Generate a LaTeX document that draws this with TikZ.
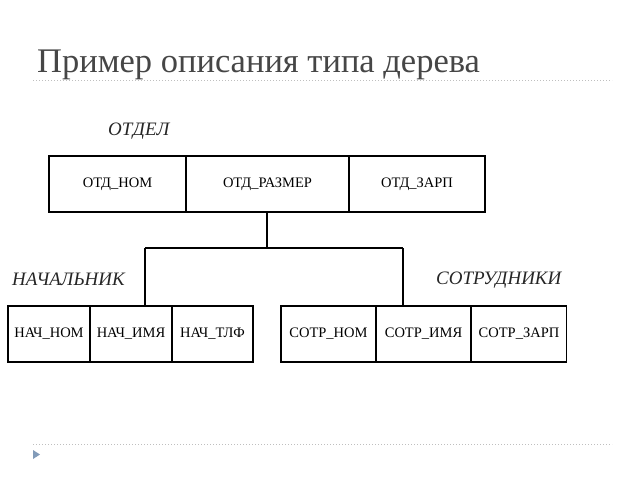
\documentclass[tikz,border=0pt]{standalone}
\usepackage{fontspec}
\setmainfont{Liberation Serif}
\definecolor{tri}{RGB}{130,155,185}
\definecolor{titlegray}{RGB}{70,70,70}
\begin{document}
\begin{tikzpicture}[x=1pt,y=-1pt,
  cell/.style={draw=black,line width=1.4pt,minimum height=56pt,inner sep=0pt,font=\fontsize{14.5}{16}\selectfont},
  tlabel/.style={font=\fontsize{19}{20}\selectfont\itshape,text=black!85,inner sep=0pt,anchor=west},
  conn/.style={draw=black,line width=1.4pt},
  sep/.style={draw=black!25,line width=1pt,dotted}]
\useasboundingbox (0,0) rectangle (640,480);
\node[anchor=base west,inner sep=0pt,text=titlegray,font=\fontsize{34.5}{36}\selectfont] (title) at (37,72) {Пример описания типа дерева};
\coordinate (s1a) at (33,80); \coordinate (s1b) at (612,80);
\draw[sep] (s1a) -- (s1b);
\coordinate (s2a) at (33,444); \coordinate (s2b) at (612,444);
\draw[sep] (s2a) -- (s2b);
\fill[fill=tri] (33,450) -- (40,454.5) -- (33,459) -- cycle;
% top
\node[tlabel] (otdel) at (108,131) {ОТДЕЛ};
\node[cell,minimum width=137pt] (onom) at (117.5,184) {ОТД\_НОМ};
\node[cell,minimum width=163pt] (orazm) at (267.5,184) {ОТД\_РАЗМЕР};
\node[cell,minimum width=136pt] (ozarp) at (417,184) {ОТД\_ЗАРП};
% left
\node[tlabel] (nach) at (12,279) {НАЧАЛЬНИК};
\node[cell,minimum width=82pt] (nnom) at (49,334) {НАЧ\_НОМ};
\node[cell,minimum width=82pt] (nimya) at (131,334) {НАЧ\_ИМЯ};
\node[cell,minimum width=81pt] (ntlf) at (212.5,334) {НАЧ\_ТЛФ};
% right
\node[tlabel] (sotr) at (436,280) {СОТРУДНИКИ};
\node[cell,minimum width=95pt] (snom) at (328.5,334) {СОТР\_НОМ};
\node[cell,minimum width=95pt] (simya) at (423.5,334) {СОТР\_ИМЯ};
\node[cell,minimum width=95pt] (szarp) at (519,334) {СОТР\_ЗАРП};
% connectors
\coordinate (j) at (267,248);
\coordinate (jl) at (145,248);
\coordinate (jr) at (403,248);
\draw[conn] (j |- orazm.south) -- (j);
\draw[conn] (jl) -- (jr);
\draw[conn] (jl) -- (jl |- nimya.north);
\draw[conn] (jr) -- (jr |- simya.north);
\end{tikzpicture}
\end{document}
